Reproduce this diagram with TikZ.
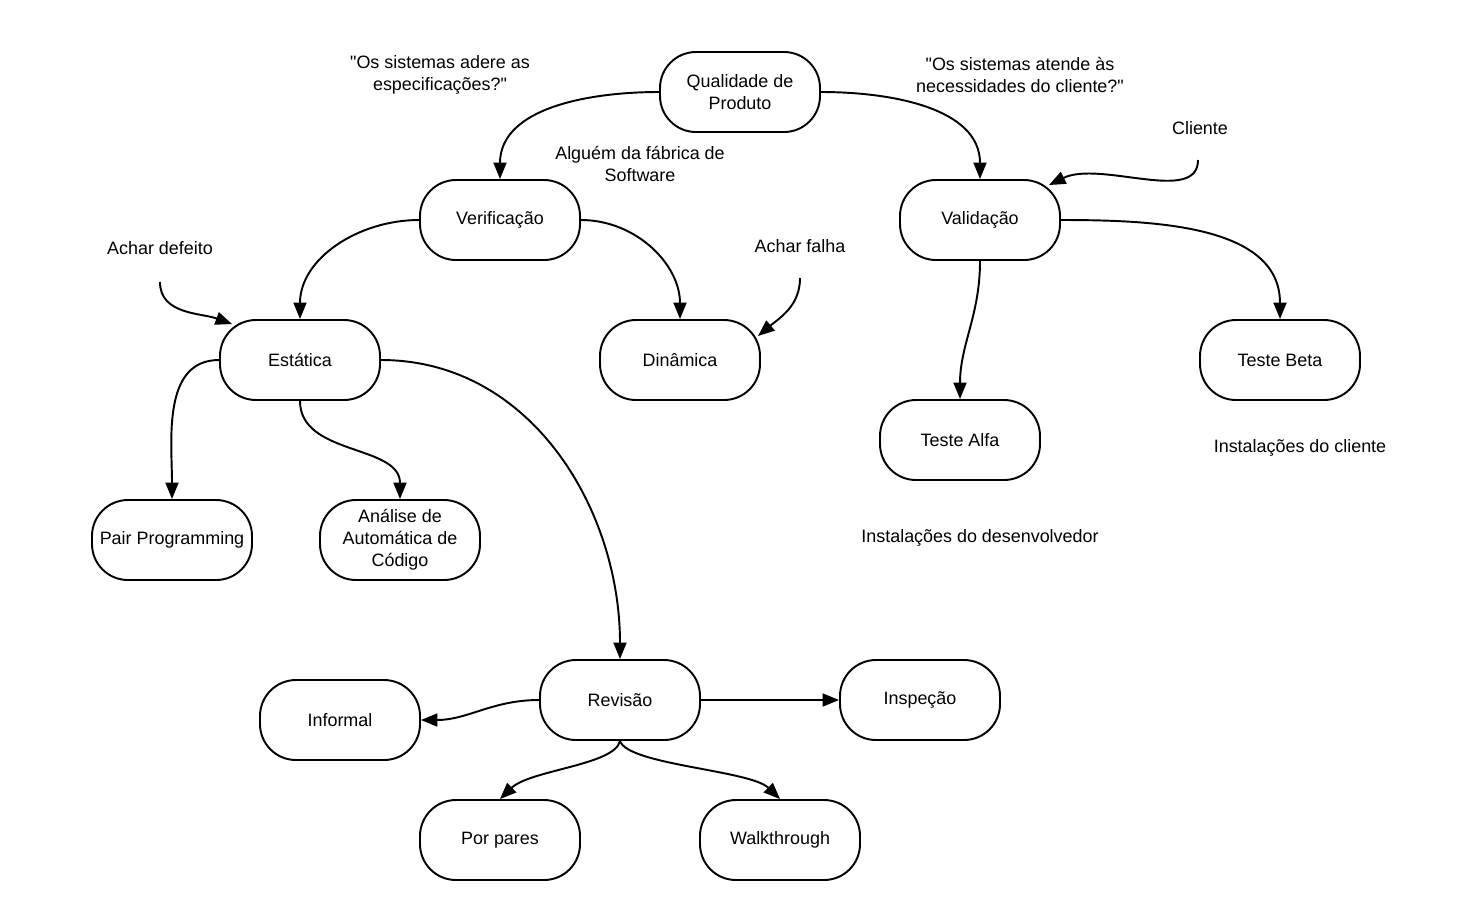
\documentclass[tikz,border=0pt]{standalone}
\usepackage{fontspec}
\setmainfont{Liberation Sans}
\usetikzlibrary{arrows.meta}

\begin{document}
\begin{tikzpicture}[
  x=0.2mm,y=-0.2mm,
  font=\fontsize{10.2}{12.4}\selectfont,
  state/.style={draw,line width=1.1pt,rounded corners=0.72cm,minimum width=3.2cm,minimum height=1.6cm,align=center,inner sep=2pt},
  note/.style={align=center,inner sep=0pt},
  arrow/.style={-{Triangle[length=3.3mm,width=2.6mm]},line width=1.1pt}]
  \useasboundingbox (0,0) rectangle (1460,920);
  % nos principais
  \node[state] (qual) at (740,92) {Qualidade de\\Produto};
  \node[state] (verif) at (500,220) {Verificação};
  \node[state] (valid) at (980,220) {Validação};
  \node[state] (estat) at (300,360) {Estática};
  \node[state] (dinam) at (680,360) {Dinâmica};
  \node[state] (alfa) at (960,440) {Teste Alfa};
  \node[state] (beta) at (1280,360) {Teste Beta};
  \node[state] (pair) at (172,540) {Pair Programming};
  \node[state] (anal) at (400,540) {Análise de\\Automática de\\Código};
  \node[state] (rev) at (620,700) {Revisão};
  \node[state] (inform) at (340,720) {Informal};
  \node[state] (insp) at (920,700) {Inspeção};
  \node[state] (pares) at (500,840) {Por pares};
  \node[state] (walk) at (780,840) {Walkthrough};
  % textos soltos
  \node[note] (espec) at (440,75) {\textquotedbl Os sistemas adere as\\especificações?\textquotedbl};
  \node[note] (neces) at (1020,75) {\textquotedbl Os sistemas atende às\\necessidades do cliente?\textquotedbl};
  \node[note] (fabrica) at (640,164) {Alguém da fábrica de\\Software};
  \node[note] (cliente) at (1200,128) {Cliente};
  \node[note] (defeito) at (160,248) {Achar defeito};
  \node[note] (falhatxt) at (800,246) {Achar falha};
  \node[note] (instcli) at (1300,448) {Instalações do cliente};
  \node[note] (instdes) at (980,538) {Instalações do desenvolvedor};
  \coordinate (defeitoini) at (160,282);
  \coordinate (falhaini) at (800,278);
  \coordinate (clienteini) at (1198,160);
  % ligacoes
  \draw[arrow] (qual.west) to[out=180,in=90] (verif.north);
  \draw[arrow] (qual.east) to[out=0,in=90] (valid.north);
  \draw[arrow] (verif.west) to[out=180,in=90] (estat.north);
  \draw[arrow] (verif.east) to[out=0,in=90] (dinam.north);
  \draw[arrow] (falhaini) to[out=-90,in=40] ([shift={(-3,17)}]dinam.north east);
  \draw[arrow] (defeitoini) to[out=-90,in=160] ([shift={(13,5)}]estat.north west);
  \draw[arrow] (clienteini) .. controls (1198,205) and (1100,160) .. ([shift={(-12,6)}]valid.north east);
  \draw[arrow] (valid.east) to[out=0,in=90] (beta.north);
  \draw[arrow] (valid.south) to[out=-90,in=90] (alfa.north);
  \draw[arrow] (estat.west) to[out=180,in=90] (pair.north);
  \draw[arrow] (estat.south) to[out=-90,in=90] (anal.north);
  \draw[arrow] (estat.east) to[out=0,in=90] (rev.north);
  \draw[arrow] (rev.west) to[out=180,in=0] (inform.east);
  \draw[arrow] (rev.east) -- (insp.west);
  \draw[arrow] (rev.south) .. controls (615,765) and (530,770) .. (pares.north);
  \draw[arrow] (rev.south) .. controls (628,765) and (750,770) .. (walk.north);
\end{tikzpicture}
\end{document}
